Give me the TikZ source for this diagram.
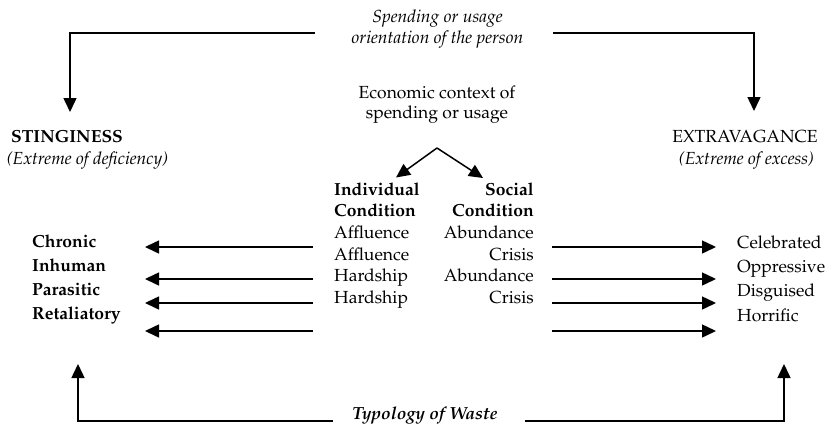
\documentclass[tikz,border=0pt]{standalone}
\usepackage[T1]{fontenc}
\usepackage{mathpazo}
\usetikzlibrary{arrows.meta,positioning}

\begin{document}
\begin{tikzpicture}[x=1pt,y=-1pt,
    arr/.style={line width=1.5pt,-{Triangle[width=13pt,length=14pt]}},
    txt/.style={inner sep=0pt,font=\fontsize{17.5}{21.6}\selectfont},
    lines/.style={txt,align=left,anchor=north west}]
        \useasboundingbox (0,0) rectangle (828,426);
        % Headings
        \node[txt,align=center,anchor=north,font=\fontsize{17.5}{21}\selectfont\itshape] (orient) at (437.5,9.5)
            {Spending or usage\\orientation of the person};
        \node[txt,anchor=base,font=\fontsize{17.5}{21}\selectfont\bfseries] (sting) at (67,142) {STINGINESS};
        \node[txt,anchor=base,font=\fontsize{17.5}{21}\selectfont\itshape] (deficit) at (87.5,164) {(Extreme of deficiency)};
        \node[txt,anchor=base] (extrav) at (745,142) {EXTRAVAGANCE};
        \node[txt,anchor=base,font=\fontsize{17.5}{21}\selectfont\itshape] (excess) at (746.5,164) {(Extreme of excess)};
        \node[txt,align=center,anchor=north,font=\fontsize{17.5}{20.5}\selectfont] (econ) at (437,85.5)
            {Economic context of\\spending or usage};
        % Conditions
        \node[lines] (indiv) at (334,182.5)
            {\textbf{Individual}\\\textbf{Condition}\\Affluence\\Affluence\\Hardship\\Hardship};
        \node[txt,align=right,anchor=north east] (social) at (534,182.5)
            {\textbf{Social}\\\textbf{Condition}\\Abundance\\Crisis\\Abundance\\Crisis};
        % Types of waste
        \node[lines,font=\fontsize{17.5}{24}\selectfont\bfseries] (stingtypes) at (32,234.5)
            {Chronic\\Inhuman\\Parasitic\\Retaliatory};
        \node[lines,font=\fontsize{17.5}{24.3}\selectfont] (extratypes) at (737,235.5)
            {Celebrated\\Oppressive\\Disguised\\Horrific};
        \node[txt,anchor=base,font=\fontsize{17.5}{21}\selectfont\bfseries\itshape] (typology) at (425,419) {Typology of Waste};
        % Connector ends
        \coordinate (topL) at (315,33);
        \coordinate (topR) at (553,33);
        \coordinate (stingIn) at (70,112);
        \coordinate (extraIn) at (754,111);
        \coordinate (botL) at (333,421);
        \coordinate (botR) at (525,421);
        \coordinate (stingOut) at (78,364);
        \coordinate (extraOut) at (784,364);
        \coordinate (fork) at (437,148);
        \coordinate (indivIn) at (396,177.5);
        \coordinate (socialIn) at (483,178);
        % Connectors
        \draw[arr] (topL) -| (stingIn);
        \draw[arr] (topR) -| (extraIn);
        \draw[arr] (botL) -| (stingOut);
        \draw[arr] (botR) -| (extraOut);
        \draw[arr] (fork) -- (indivIn);
        \draw[arr] (fork) -- (socialIn);
        \foreach \y in {247,279,303,331} {
            \draw[arr] (313,\y) -- (145,\y);
            \draw[arr] (552,\y) -- (716,\y);
        }
\end{tikzpicture}
\end{document}
